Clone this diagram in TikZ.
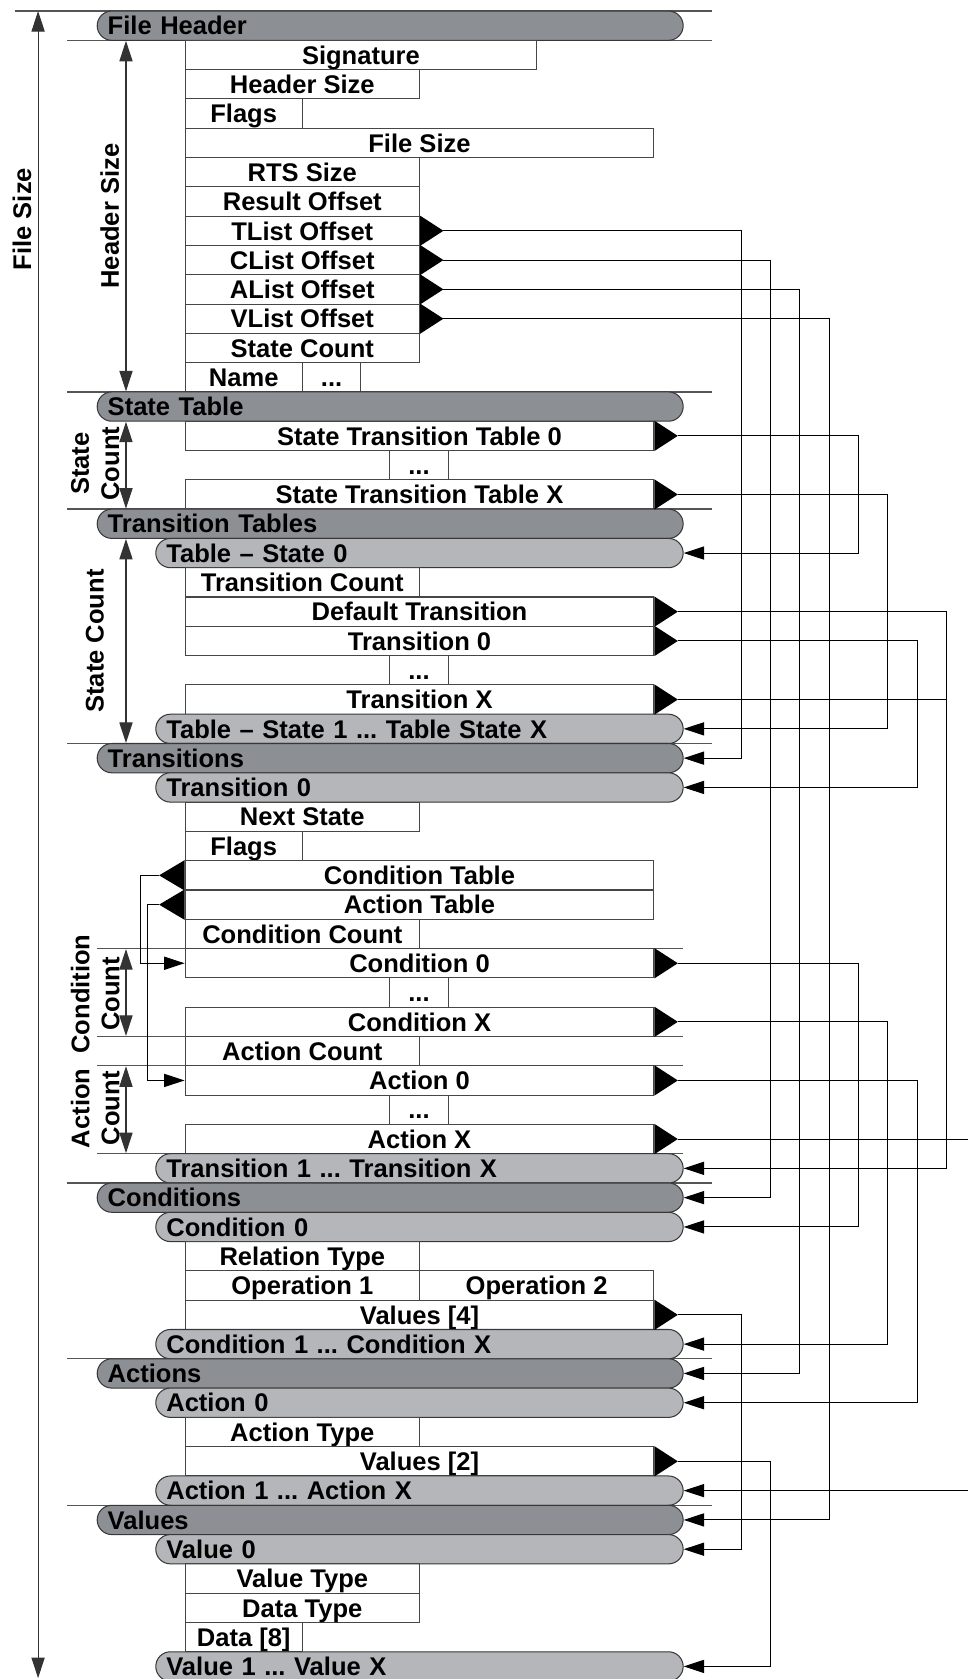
\documentclass[tikz,border=0pt]{standalone}
\usepackage{fontspec}
\setmainfont{Liberation Sans}
\usetikzlibrary{arrows.meta,calc}

\definecolor{darkband}{RGB}{140,143,148}
\definecolor{lightband}{RGB}{181,182,186}
\definecolor{rimline}{RGB}{55,55,55}
\definecolor{boxline}{RGB}{70,70,70}
\definecolor{ruleline}{RGB}{85,85,85}

\tikzset{
  fld/.style={draw=boxline, line width=0.5pt, minimum width=#1*0.5cm, minimum height=0.5cm,
    inner sep=0pt, anchor=west, text height=0.315cm, text depth=0pt},
  sect/.style={draw=rimline, line width=0.5pt, fill=darkband, rounded corners=0.25cm,
    minimum height=0.5cm, inner xsep=0.18cm, inner ysep=0pt, text width=9.64cm,
    align=left, anchor=west, text height=0.315cm, text depth=0pt},
  part/.style={sect, fill=lightband, text width=8.64cm},
  secline/.style={ruleline, line width=0.6pt},
  subline/.style={ruleline, line width=0.5pt},
  dimline/.style={<->, black!80, line width=0.5pt},
  link/.style={black, line width=0.5pt},
  vlabel/.style={rotate=90, align=center, inner sep=0pt},
}

% big pointer on the right / left side of a field
\newcommand{\outtip}[2]{\fill (#1.north east) -- ($(#1.east)+(0.8,0)$) coordinate (#2) -- (#1.south east) -- cycle;}
\newcommand{\intip}[2]{\fill (#1.north west) -- ($(#1.west)+(-0.87,0)$) coordinate (#2) -- (#1.south west) -- cycle;}

\begin{document}
\begin{tikzpicture}[x=0.5cm, y=-0.5cm, font=\fontsize{12.4}{14.6}\selectfont\bfseries\frenchspacing,
    >={Triangle[length=0.35cm,width=0.225cm]}]
  \useasboundingbox (-0.3,-0.377) rectangle (32.74,56.93);

  % columns for the offset links
  \foreach \c in {25,...,32} \coordinate (col\c) at (\c,0);
  \coordinate (colL) at (4.5,0);
  \coordinate (colM) at (4.73,0);
  \coordinate (edgeR) at (32.74,0);

  % rules
  \draw[secline, line width=0.9pt] (0.2,0) -- (24,0);
  \foreach \r in {1,13,17,25,40,46,51} \draw[secline] (2,\r) -- (24,\r);
  \foreach \r in {32,35,36,39} \draw[subline] (3,\r) -- (23,\r);

  % file header
  \node[sect] (hdr) at (3,0.5) {File Header};
  \node[fld=12] (sig) at (6,1.5) {Signature};
  \node[fld=8] (hsize) at (6,2.5) {Header Size};
  \node[fld=4] (flags) at (6,3.5) {Flags};
  \node[fld=16] (fsize) at (6,4.5) {File Size};
  \node[fld=8] (rts) at (6,5.5) {RTS Size};
  \node[fld=8] (roff) at (6,6.5) {Result Offset};
  \node[fld=8] (tlist) at (6,7.5) {TList Offset};
  \node[fld=8] (clist) at (6,8.5) {CList Offset};
  \node[fld=8] (alist) at (6,9.5) {AList Offset};
  \node[fld=8] (vlist) at (6,10.5) {VList Offset};
  \node[fld=8] (scount) at (6,11.5) {State Count};
  \node[fld=4] (name) at (6,12.5) {Name};
  \node[fld=2] (namex) at (10,12.5) {...};

  % state table
  \node[sect] (stab) at (3,13.5) {State Table};
  \node[fld=16] (stt0) at (6,14.5) {State Transition Table 0};
  \node[fld=16] (sttx) at (6,16.5) {State Transition Table X};

  % transition tables
  \node[sect] (ttabs) at (3,17.5) {Transition Tables};
  \node[part] (tbl0) at (5,18.5) {Table \textendash{} State 0};
  \node[fld=8] (tcount) at (6,19.5) {Transition Count};
  \node[fld=16] (deft) at (6,20.5) {Default Transition};
  \node[fld=16] (tr0) at (6,21.5) {Transition 0};
  \node[fld=16] (trx) at (6,23.5) {Transition X};
  \node[part] (tbl1) at (5,24.5) {Table \textendash{} State 1 ... Table State X};

  % transitions
  \node[sect] (trans) at (3,25.5) {Transitions};
  \node[part] (trans0) at (5,26.5) {Transition 0};
  \node[fld=8] (next) at (6,27.5) {Next State};
  \node[fld=4] (tflags) at (6,28.5) {Flags};
  \node[fld=16] (ctab) at (6,29.5) {Condition Table};
  \node[fld=16] (atab) at (6,30.5) {Action Table};
  \node[fld=8] (ccount) at (6,31.5) {Condition Count};
  \node[fld=16] (cnd0) at (6,32.5) {Condition 0};
  \node[fld=16] (cndx) at (6,34.5) {Condition X};
  \node[fld=8] (acount) at (6,35.5) {Action Count};
  \node[fld=16] (act0) at (6,36.5) {Action 0};
  \node[fld=16] (actx) at (6,38.5) {Action X};
  \node[part] (trans1) at (5,39.5) {Transition 1 ... Transition X};

  % conditions
  \node[sect] (conds) at (3,40.5) {Conditions};
  \node[part] (cond0) at (5,41.5) {Condition 0};
  \node[fld=8] (rtype) at (6,42.5) {Relation Type};
  \node[fld=8] (op1) at (6,43.5) {Operation 1};
  \node[fld=8] (op2) at (14,43.5) {Operation 2};
  \node[fld=16] (val4) at (6,44.5) {Values [4]};
  \node[part] (cond1) at (5,45.5) {Condition 1 ... Condition X};

  % actions
  \node[sect] (acts) at (3,46.5) {Actions};
  \node[part] (actn0) at (5,47.5) {Action 0};
  \node[fld=8] (atype) at (6,48.5) {Action Type};
  \node[fld=16] (val2) at (6,49.5) {Values [2]};
  \node[part] (actn1) at (5,50.5) {Action 1 ... Action X};

  % values
  \node[sect] (vals) at (3,51.5) {Values};
  \node[part] (value0) at (5,52.5) {Value 0};
  \node[fld=8] (vtype) at (6,53.5) {Value Type};
  \node[fld=8] (dtype) at (6,54.5) {Data Type};
  \node[fld=4] (data) at (6,55.5) {Data [8]};
  \node[part] (value1) at (5,56.5) {Value 1 ... Value X};

  % repeated entries
  \foreach \r in {15,22,33,37} \node[fld=2, anchor=center] (dots\r) at (14,\r+0.5) {...};

  % size arrows
  \coordinate (fsTop) at (1,0);  \coordinate (fsBot) at (1,56.9);
  \draw[dimline] (fsTop) -- (fsBot);
  \node[vlabel] (fsLbl) at (0.45,7.1) {File Size};
  \draw[dimline] (hdr.south -| 4,0) -- (stab.north -| 4,0);
  \node[vlabel] (hsLbl) at (3.45,7) {Header Size};
  \draw[dimline] (stab.south -| 4,0) -- (ttabs.north -| 4,0);
  \node[vlabel] (sc1Lbl) at (2.95,15.45) {State\\Count};
  \draw[dimline] (ttabs.south -| 4,0) -- (trans.north -| 4,0);
  \node[vlabel] (sc2Lbl) at (2.94,21.5) {State Count};
  \draw[dimline] (ccount.south -| 4,0) -- (acount.north -| 4,0);
  \node[vlabel] (ccLbl) at (2.95,33.55) {Condition\\Count};
  \draw[dimline] (acount.south -| 4,0) -- (trans1.north -| 4,0);
  \node[vlabel] (acLbl) at (2.95,37.45) {Action\\Count};

  % pointers
  \outtip{tlist}{tTL} \outtip{clist}{tCL} \outtip{alist}{tAL} \outtip{vlist}{tVL}
  \outtip{stt0}{tS0} \outtip{sttx}{tSX}
  \outtip{deft}{tDT} \outtip{tr0}{tT0} \outtip{trx}{tTX}
  \outtip{cnd0}{tC0} \outtip{cndx}{tCX} \outtip{act0}{tA0} \outtip{actx}{tAX}
  \outtip{val4}{tV4} \outtip{val2}{tV2}
  \intip{ctab}{tCT} \intip{atab}{tAT}

  % offset links
  \draw[link,->] (tTL) -- (tTL -| col25) |- (trans.east);
  \draw[link,->] (tCL) -- (tCL -| col26) |- (conds.east);
  \draw[link,->] (tAL) -- (tAL -| col27) |- (acts.east);
  \draw[link,->] (tVL) -- (tVL -| col28) |- (vals.east);
  \draw[link,->] (tS0) -- (tS0 -| col29) |- (tbl0.east);
  \draw[link,->] (tSX) -- (tSX -| col30) |- (tbl1.east);
  \draw[link,->] (tDT) -- (tDT -| col32) |- (trans1.east);
  \draw[link] (tTX) -- (tTX -| col32);
  \draw[link,->] (tT0) -- (tT0 -| col31) |- (trans0.east);
  \draw[link,->] (tC0) -- (tC0 -| col29) |- (cond0.east);
  \draw[link,->] (tCX) -- (tCX -| col30) |- (cond1.east);
  \draw[link,->] (tA0) -- (tA0 -| col31) |- (actn0.east);
  \draw[link] (tAX) -- (tAX -| edgeR);
  \draw[link,->] (actn1.east -| edgeR) -- (actn1.east);
  \draw[link,->] (tV4) -- (tV4 -| col25) |- (value0.east);
  \draw[link,->] (tV2) -- (tV2 -| col26) |- (value1.east);
  \draw[link,->] (tCT) -- (tCT -| colL) |- (cnd0.west);
  \draw[link,->] (tAT) -- (tAT -| colM) |- (act0.west);
\end{tikzpicture}
\end{document}
